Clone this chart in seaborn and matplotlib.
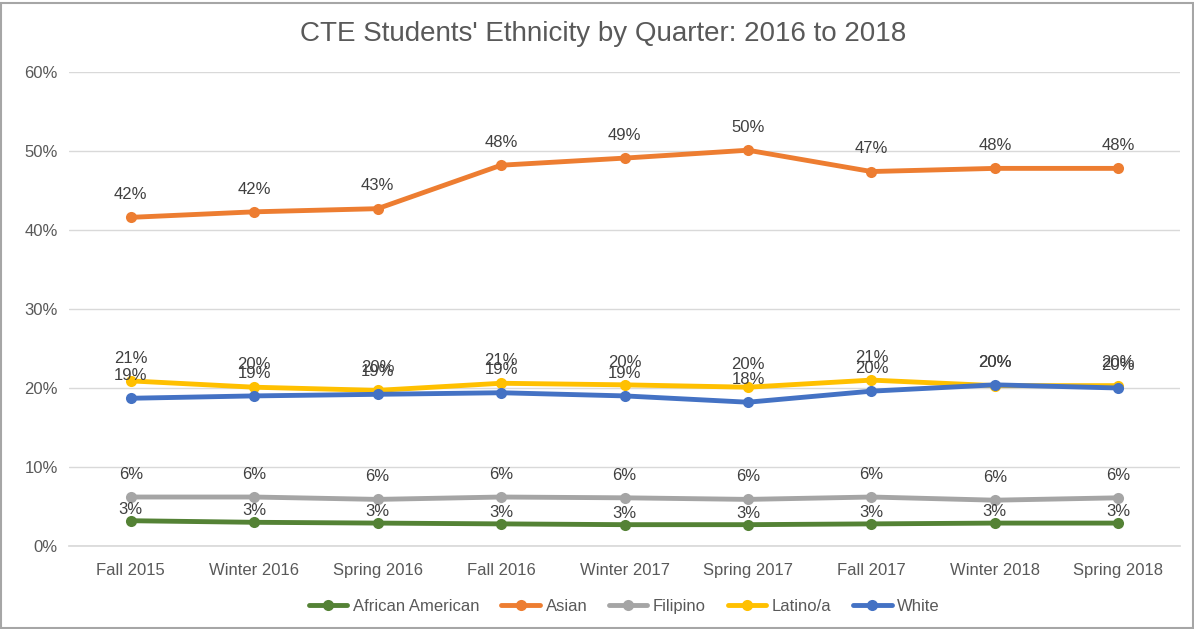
import pandas as pd
import matplotlib.pyplot as plt
import seaborn as sns
from matplotlib.patches import Rectangle
from matplotlib.ticker import PercentFormatter

quarters = ['Fall 2015', 'Winter 2016', 'Spring 2016', 'Fall 2016', 'Winter 2017',
            'Spring 2017', 'Fall 2017', 'Winter 2018', 'Spring 2018']
african_american = [3.2, 3.0, 2.9, 2.8, 2.7, 2.7, 2.8, 2.9, 2.9]
asian = [41.6, 42.3, 42.7, 48.2, 49.1, 50.1, 47.4, 47.8, 47.8]
filipino = [6.2, 6.2, 5.9, 6.2, 6.1, 5.9, 6.2, 5.8, 6.1]
latino = [20.9, 20.1, 19.7, 20.6, 20.4, 20.1, 21.0, 20.3, 20.3]
white = [18.7, 19.0, 19.2, 19.4, 19.0, 18.2, 19.6, 20.4, 20.0]

groups = ['African American', 'Asian', 'Filipino', 'Latino/a', 'White']
colors = ['#548235', '#ED7D31', '#A5A5A5', '#FFC000', '#4472C4']
series = [african_american, asian, filipino, latino, white]
# label offset above each point, in points (AA labels sit closer to their line)
label_offsets = [3, 11, 11, 11, 11]

rows = []
for g, vals in zip(groups, series):
    for q, v in zip(quarters, vals):
        rows.append({'Quarter': q, 'Group': g, 'Pct': v})
df = pd.DataFrame(rows)

sns.set_theme(style='white')
plt.rcParams['font.family'] = ['Liberation Sans', 'DejaVu Sans']

fig = plt.figure(figsize=(11.94, 6.29), dpi=100)
ax = fig.add_axes([69 / 1194, 1 - 546 / 629, (1180 - 69) / 1194, (546 - 72) / 629])

sns.lineplot(data=df, x='Quarter', y='Pct', hue='Group', palette=colors,
             hue_order=groups, marker='o', markersize=8, markeredgewidth=0,
             linewidth=3.5, sort=False, ax=ax)

for g, vals, off in zip(groups, series, label_offsets):
    for i, v in enumerate(vals):
        ax.annotate(f'{v:.0f}%', (i, v), xytext=(0, off), textcoords='offset points',
                    ha='center', va='bottom', fontsize=12, color='#404040')

ax.set_xlim(-0.5, len(quarters) - 0.5)
ax.set_ylim(0, 60)
ax.set_yticks(range(0, 61, 10))
ax.yaxis.set_major_formatter(PercentFormatter(decimals=0))
ax.grid(axis='y', color='#D9D9D9', linewidth=1)
ax.set_axisbelow(True)
for s in ['top', 'right', 'left']:
    ax.spines[s].set_visible(False)
ax.spines['bottom'].set_color('#D9D9D9')
ax.tick_params(axis='x', pad=12)
ax.tick_params(axis='both', labelsize=12, labelcolor='#595959', length=0)
ax.tick_params(axis='y', pad=8)
ax.set_xlabel('')
ax.set_ylabel('')

ax.legend(loc='upper center', bbox_to_anchor=(0.5, -0.08), ncol=5, frameon=False,
          fontsize=12, labelcolor='#595959', handlelength=2.3, columnspacing=1.3,
          handletextpad=0.35)

fig.text(0.505, 1 - 34 / 629, "CTE Students' Ethnicity by Quarter: 2016 to 2018",
         ha='center', va='center', fontsize=20, color='#595959')

fig.patches.append(Rectangle((0.001, 0.001), 0.998, 0.995, transform=fig.transFigure,
                             fill=False, edgecolor='#A6A6A6', linewidth=1.5))

fig.savefig('out.png', dpi=100)
